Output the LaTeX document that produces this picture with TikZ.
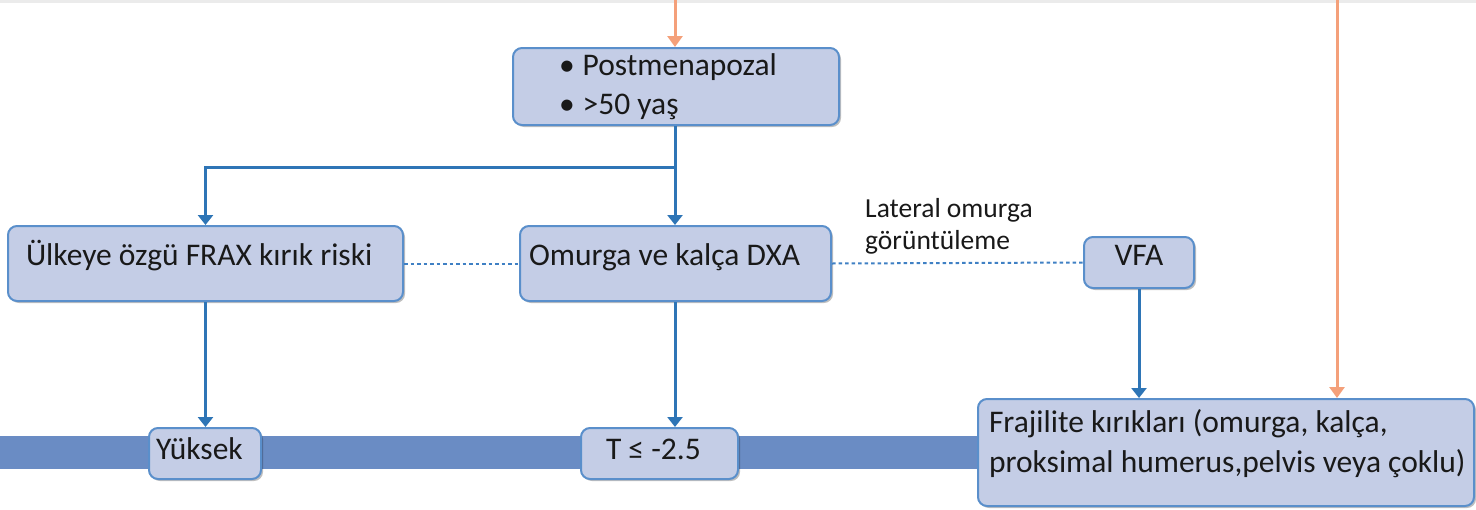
\documentclass[tikz,border=0pt]{standalone}
\usepackage{fontspec}
\setmainfont{Carlito}
\usetikzlibrary{arrows.meta,shadows,calc}
\definecolor{boxfill}{HTML}{C4CDE6}
\definecolor{boxline}{HTML}{5A8FCB}
\definecolor{arrblue}{HTML}{2E75B6}
\definecolor{arrorange}{HTML}{F4A07A}
\definecolor{barblue}{HTML}{6A8CC4}
\definecolor{dotblue}{HTML}{3F80C4}
\newcommand{\dpstrut}[1]{\rule[-#1]{0pt}{#1}}
\tikzset{
  stepbox/.style={draw=boxline, line width=2pt, fill=boxfill, rounded corners=9pt,
    drop shadow={shadow xshift=2pt, shadow yshift=-2pt, opacity=0.25, fill=black},
    inner ysep=0pt, font=\fontsize{31.5}{39}\selectfont, text=black!90},
  arr/.style={draw=arrblue, line width=3pt, -{Triangle[width=15pt,length=10pt]}},
  oarr/.style={draw=arrorange, line width=3pt, -{Triangle[width=15pt,length=11pt]}},
  dotline/.style={draw=dotblue, line width=2pt, dash pattern=on 3.5pt off 3pt},
  lbl/.style={font=\fontsize{27.5}{32}\selectfont, text=black!90, align=flush left, inner sep=0pt}
}
\begin{document}
\begin{tikzpicture}[x=1pt,y=-1pt]
\useasboundingbox (0,0) rectangle (1476,509);
\fill[white] (0,0) rectangle (1476,509);
\draw[black!8, line width=3pt] (0,1.5) -- (1476,1.5);
% bottom bar
\fill[barblue] (0,436) rectangle (977,469);
% boxes
\node[stepbox, anchor=north west, minimum width=326, minimum height=77, text width=234, inner xsep=46, align=flush left] (top) at (512,47)
  {\textbullet\hspace{8pt}Postmenapozal\\\textbullet\hspace{8pt}>50 yaş};
\node[stepbox, anchor=north west, minimum width=395, minimum height=75, text width=359, inner xsep=18, align=flush left] (left) at (7,225)
  {Ülkeye özgü FRAX kırık riski\dpstrut{21pt}};
\node[stepbox, anchor=north west, minimum width=311, minimum height=75, text width=293, inner xsep=9, align=flush left] (mid) at (519,225)
  {Omurga ve kalça DXA\dpstrut{18pt}};
\node[stepbox, anchor=north west, minimum width=110, minimum height=51, text width=90, inner xsep=10, align=center] (vfa) at (1083,236)
  {VFA\dpstrut{15pt}};
\node[stepbox, anchor=north west, minimum width=112, minimum height=51, text width=98, inner xsep=7, align=flush left] (yuk) at (148,427)
  {Yüksek\dpstrut{10pt}};
\node[stepbox, anchor=north west, minimum width=157, minimum height=51, text width=107, inner xsep=25, align=flush left] (tbox) at (580,427)
  {T ≤ -2.5\dpstrut{8pt}};
\node[stepbox, anchor=north west, minimum width=496, minimum height=107, text width=474, inner xsep=11, align=flush left,
  font=\fontsize{31.5}{40}\selectfont] (fraj) at (977,398)
  {\mbox{Frajilite kırıkları (omurga, kalça,}\\\mbox{proksimal humerus,pelvis veya çoklu)}\dpstrut{24pt}};
% label
\node[lbl, anchor=north west] (lat) at (865,198) {Lateral omurga\\görüntüleme};
% coordinates
\coordinate (o1) at (675,0);
\coordinate (o2) at (1337,0);
\coordinate (br) at (675,167);
% connectors
\draw[oarr] (o1) -- (top.north -| o1);
\draw[oarr] (o2) -- (fraj.north -| o2);
\draw[arr] (top.south -| br) -- (mid.north -| br);
\draw[arr] (br) -| (left.north);
\draw[arr] (left.south) -- (yuk.north -| left.south);
\draw[arr] (mid.south -| br) -- (tbox.north -| br);
\draw[arr] (vfa.south) -- (fraj.north -| vfa.south);
\draw[dotline] (left.east) -- (mid.west);
\draw[dotline] (mid.east) -- (vfa.west);
\end{tikzpicture}
\end{document}
